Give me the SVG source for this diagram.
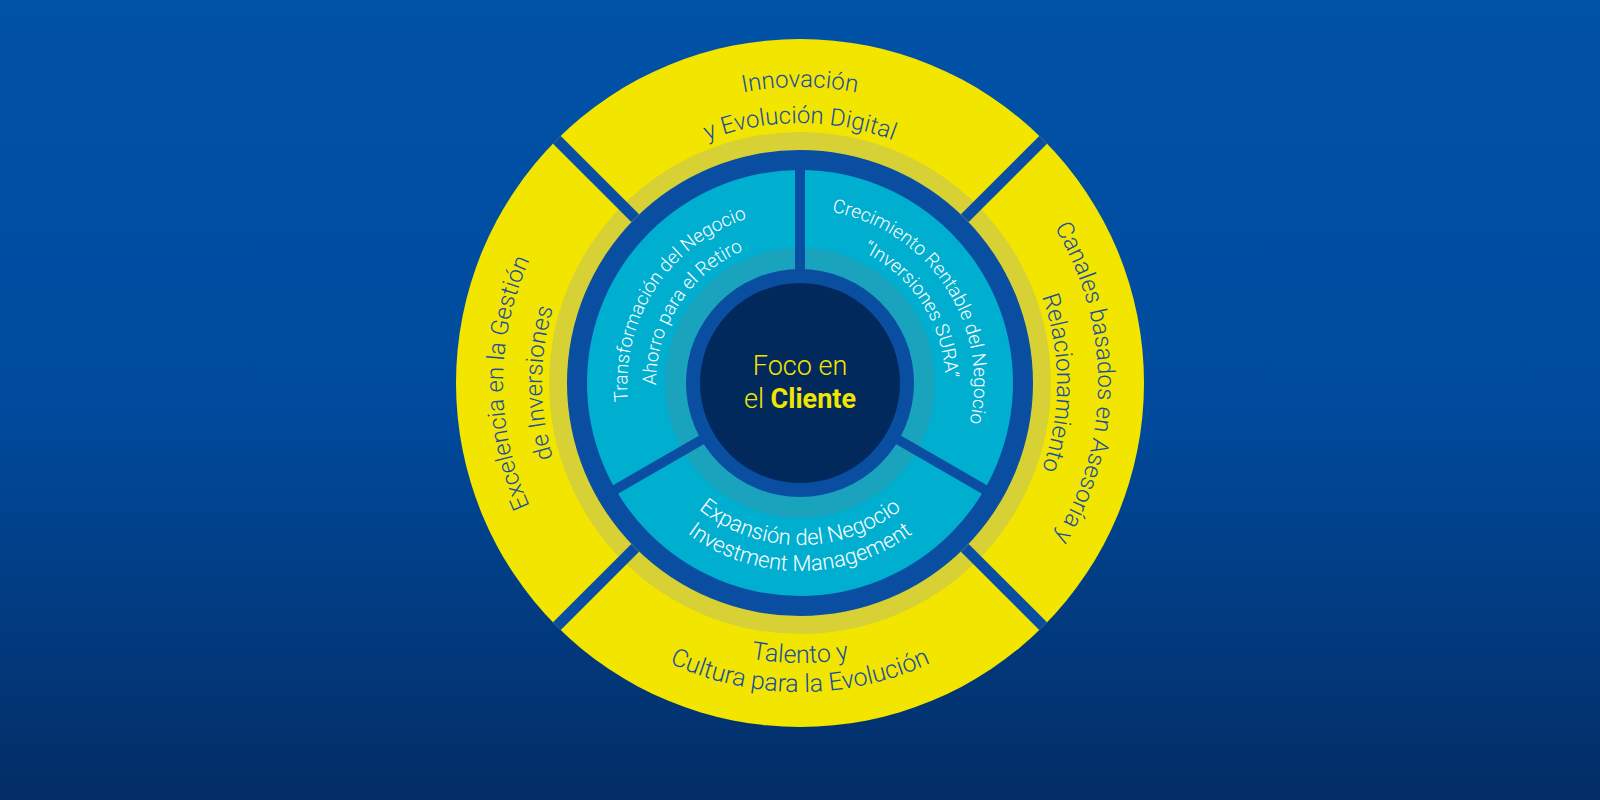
<svg xmlns="http://www.w3.org/2000/svg" width="1600" height="800" viewBox="0 0 1600 800">
  <defs>
    <linearGradient id="bg" x1="0" y1="0" x2="0" y2="1">
      <stop offset="0" stop-color="#0052a7"/>
      <stop offset="0.5" stop-color="#004b9e"/>
      <stop offset="1" stop-color="#032d66"/>
    </linearGradient>
    <clipPath id="outerClip">
      <circle cx="800" cy="383" r="344"/>
    </clipPath>
    <!-- text paths -->
    <path id="pTop1" d="M504,383 A296,296 0 0 1 1096,383"/>
    <path id="pTop2" d="M540,383 A260,260 0 0 1 1060,383"/>
    <path id="pRight1" d="M800,85 A298,298 0 0 1 800,681"/>
    <path id="pRight2" d="M800,126 A257,257 0 0 1 800,640"/>
    <path id="pLeft1" d="M800,680 A297,297 0 0 1 800,86"/>
    <path id="pLeft2" d="M800,641 A258,258 0 0 1 800,125"/>
    <path id="pBot1" d="M520,383 A280,280 0 0 0 1080,383"/>
    <path id="pBot2" d="M491,383 A309,309 0 0 0 1109,383"/>
    <path id="pUL1" d="M705.2,528.9 A174,174 0 0 1 894.8,237.1"/>
    <path id="pUL2" d="M721.6,503.8 A144,144 0 0 1 878.4,262.2"/>
    <path id="pUR1" d="M704.8,237.1 A174,174 0 0 1 895.2,528.9"/>
    <path id="pUR2" d="M720.4,261.4 A145,145 0 0 1 879.6,504.6"/>
    <path id="pB1" d="M638,383 A162,162 0 0 0 962,383"/>
    <path id="pB2" d="M612,383 A188,188 0 0 0 988,383"/>
  </defs>
  <style>
    .gap { stroke: #0a4ea2; stroke-width: 11; fill: none; }
    .ytxt { font-family: Roboto, "Liberation Sans", sans-serif; font-weight: 300; font-size: 24px; fill: #1a4e9f; text-anchor: middle; }
    .ctxt { font-family: Roboto, "Liberation Sans", sans-serif; font-weight: 300; font-size: 19px; fill: #ffffff; text-anchor: middle; }
    .center { font-family: Roboto, "Liberation Sans", sans-serif; font-weight: 300; font-size: 27px; fill: #f2e600; text-anchor: middle; }
  </style>

  <rect x="0" y="0" width="1600" height="800" fill="url(#bg)"/>

  <!-- rings -->
  <g id="rings">
    <circle cx="800" cy="383" r="344" fill="#f2e600"/>
    <circle cx="800" cy="383" r="251" fill="#d8d136"/>
    <circle cx="800" cy="383" r="233" fill="#0a4ea2"/>
    <circle cx="800" cy="383" r="213" fill="#00aed0"/>
    <circle cx="800" cy="383" r="135" fill="#1aa3bd"/>
    <circle cx="800" cy="383" r="114" fill="#0a4ea2"/>
  </g>

  <!-- separators -->
  <g id="connectors" clip-path="url(#outerClip)">
    <line class="gap" x1="635.2" y1="218.2" x2="549.4" y2="132.4"/>
    <line class="gap" x1="964.8" y1="218.2" x2="1050.6" y2="132.4"/>
    <line class="gap" x1="635.2" y1="547.8" x2="549.4" y2="633.6"/>
    <line class="gap" x1="964.8" y1="547.8" x2="1050.6" y2="633.6"/>
    <line class="gap" x1="800" y1="283" x2="800" y2="155" style="stroke-width:10"/>
    <line class="gap" x1="886.6" y1="433" x2="997.5" y2="497" style="stroke-width:10"/>
    <line class="gap" x1="713.4" y1="433" x2="602.5" y2="497" style="stroke-width:10"/>
  </g>

  <g id="node-innovacion">
    <text class="ytxt"><textPath href="#pTop1" startOffset="50%">Innovación</textPath></text>
    <text class="ytxt"><textPath href="#pTop2" startOffset="50%">y Evolución Digital</textPath></text>
  </g>
  <g id="node-canales">
    <text class="ytxt"><textPath href="#pRight1" startOffset="50%">Canales basados en Asesoría y</textPath></text>
    <text class="ytxt"><textPath href="#pRight2" startOffset="50%">Relacionamiento</textPath></text>
  </g>
  <g id="node-talento">
    <text class="ytxt" style="font-size:25px"><textPath href="#pBot1" startOffset="50%">Talento y</textPath></text>
    <text class="ytxt" style="font-size:25px"><textPath href="#pBot2" startOffset="50%">Cultura para la Evolución</textPath></text>
  </g>
  <g id="node-excelencia">
    <text class="ytxt"><textPath href="#pLeft1" startOffset="50%">Excelencia en la Gestión</textPath></text>
    <text class="ytxt"><textPath href="#pLeft2" startOffset="50%">de Inversiones</textPath></text>
  </g>

  <g id="node-transformacion">
    <text class="ctxt"><textPath href="#pUL1" startOffset="50%">Transformación del Negocio</textPath></text>
    <text class="ctxt"><textPath href="#pUL2" startOffset="50%">Ahorro para el Retiro</textPath></text>
  </g>
  <g id="node-crecimiento">
    <text class="ctxt"><textPath href="#pUR1" startOffset="50%">Crecimiento Rentable del Negocio</textPath></text>
    <text class="ctxt"><textPath href="#pUR2" startOffset="50%">“Inversiones SURA”</textPath></text>
  </g>
  <g id="node-expansion">
    <text class="ctxt" style="font-size:22px"><textPath href="#pB1" startOffset="50%">Expansión del Negocio</textPath></text>
    <text class="ctxt" style="font-size:22px"><textPath href="#pB2" startOffset="50%">Investment Management</textPath></text>
  </g>

  <g id="node-foco">
    <circle cx="800" cy="383" r="100" fill="#02295b"/>
    <text class="center" x="800" y="375">Foco en</text>
    <text class="center" x="800" y="408">el <tspan font-weight="bold">Cliente</tspan></text>
  </g>
</svg>
